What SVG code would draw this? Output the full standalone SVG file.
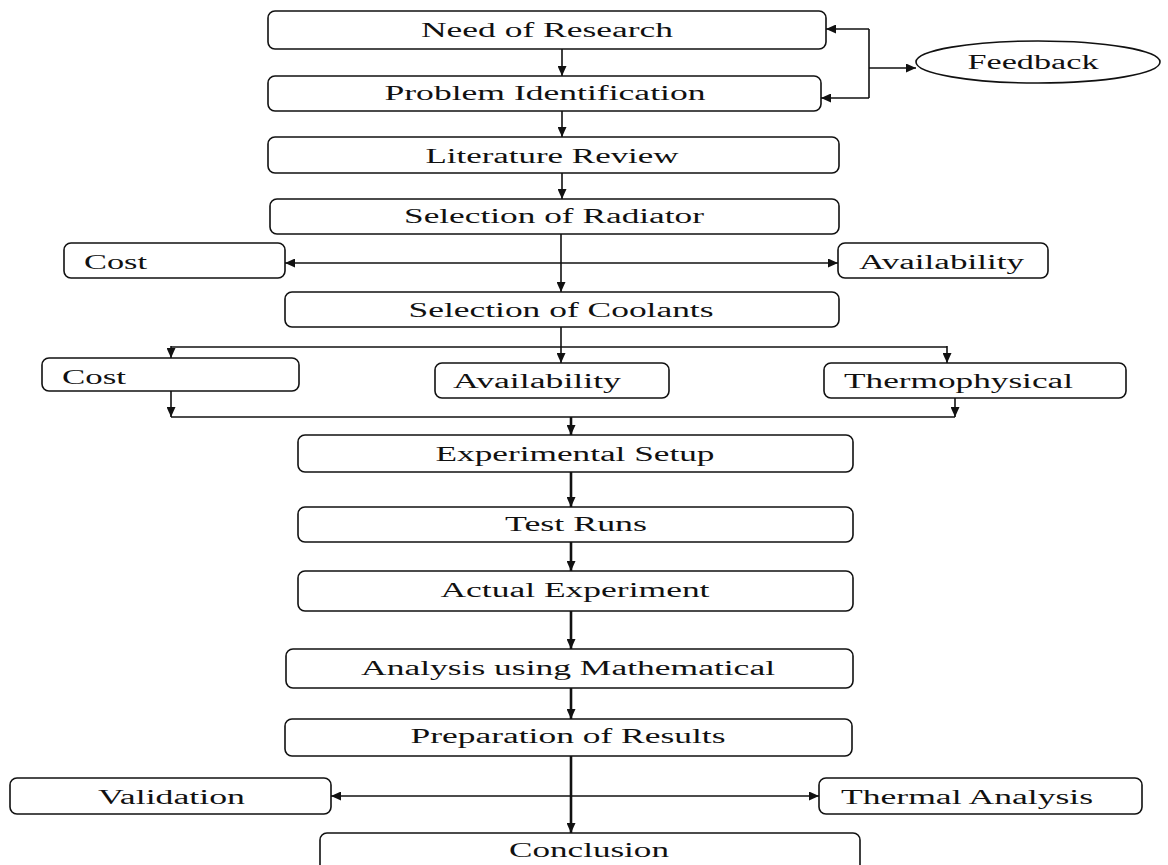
<svg xmlns="http://www.w3.org/2000/svg" width="1168" height="865" viewBox="0 0 1168 865">
<style>
.box{fill:#fff;stroke:#111;stroke-width:1.6}
.t{font-family:"Liberation Serif","Times New Roman",serif;font-size:20px;fill:#111}
.c{text-anchor:middle}
.ln{fill:none;stroke:#111;stroke-width:1.6}
.lt{fill:none;stroke:#111;stroke-width:2.6}
</style>
<defs>
<marker id="ah" markerUnits="userSpaceOnUse" markerWidth="11" markerHeight="9" refX="10" refY="4.5" orient="auto">
<path d="M0,0 L10,4.5 L0,9 z" fill="#111"/>
</marker>
</defs>
<rect width="1168" height="865" fill="#fff"/>
<g id="connectors">
<line class="ln" x1="562" y1="49" x2="562" y2="76" marker-end="url(#ah)"/>
<line class="ln" x1="562" y1="111" x2="562" y2="137" marker-end="url(#ah)"/>
<line class="ln" x1="562" y1="173" x2="562" y2="199" marker-end="url(#ah)"/>
<line class="ln" x1="561" y1="234" x2="561" y2="292" marker-end="url(#ah)"/>
<line class="ln" x1="561" y1="263" x2="285" y2="263" marker-end="url(#ah)"/>
<line class="ln" x1="561" y1="263" x2="838" y2="263" marker-end="url(#ah)"/>
<line class="ln" x1="561" y1="327" x2="561" y2="363" marker-end="url(#ah)"/>
<line class="ln" x1="171" y1="347" x2="947" y2="347"/>
<line class="ln" x1="171" y1="346" x2="171" y2="358" marker-end="url(#ah)"/>
<line class="ln" x1="947" y1="346" x2="947" y2="363" marker-end="url(#ah)"/>
<line class="ln" x1="171" y1="391" x2="171" y2="417" marker-end="url(#ah)"/>
<line class="ln" x1="955" y1="398" x2="955" y2="417" marker-end="url(#ah)"/>
<line class="ln" x1="171" y1="417" x2="955" y2="417"/>
<line class="lt" x1="571" y1="417" x2="571" y2="435" marker-end="url(#ah)"/>
<line class="lt" x1="571" y1="472" x2="571" y2="507" marker-end="url(#ah)"/>
<line class="lt" x1="571" y1="542" x2="571" y2="571" marker-end="url(#ah)"/>
<line class="lt" x1="571" y1="611" x2="571" y2="649" marker-end="url(#ah)"/>
<line class="lt" x1="571" y1="688" x2="571" y2="719" marker-end="url(#ah)"/>
<line class="lt" x1="571" y1="756" x2="571" y2="833" marker-end="url(#ah)"/>
<line class="ln" x1="571" y1="796" x2="331" y2="796" marker-end="url(#ah)"/>
<line class="ln" x1="571" y1="796" x2="819" y2="796" marker-end="url(#ah)"/>
<line class="ln" x1="869" y1="29" x2="869" y2="98"/>
<line class="ln" x1="869" y1="29" x2="826" y2="29" marker-end="url(#ah)"/>
<line class="ln" x1="869" y1="98" x2="821" y2="98" marker-end="url(#ah)"/>
<line class="ln" x1="869" y1="68" x2="916" y2="68" marker-end="url(#ah)"/>
</g>
<g id="need"><rect class="box" x="268" y="11" width="558" height="38" rx="7"/><text class="t c" x="547" y="37" textLength="252" lengthAdjust="spacingAndGlyphs">Need of Research</text></g>
<g id="problem"><rect class="box" x="268" y="76" width="553" height="35" rx="7"/><text class="t c" x="545" y="100" textLength="321" lengthAdjust="spacingAndGlyphs">Problem Identification</text></g>
<g id="literature"><rect class="box" x="268" y="137" width="571" height="36" rx="7"/><text class="t c" x="552" y="163" textLength="253" lengthAdjust="spacingAndGlyphs">Literature Review</text></g>
<g id="feedback"><ellipse cx="1038" cy="62" rx="122" ry="21" fill="#fff" stroke="#111" stroke-width="1.6"/><text class="t c" x="1033" y="69" textLength="131" lengthAdjust="spacingAndGlyphs">Feedback</text></g>
<g id="radiator"><rect class="box" x="270" y="199" width="569" height="35" rx="7"/><text class="t c" x="554" y="223" textLength="300" lengthAdjust="spacingAndGlyphs">Selection of Radiator</text></g>
<g id="cost1"><rect class="box" x="64" y="243" width="221" height="35" rx="7"/><text class="t" x="84" y="269" textLength="63" lengthAdjust="spacingAndGlyphs">Cost</text></g>
<g id="avail1"><rect class="box" x="838" y="243" width="210" height="35" rx="7"/><text class="t" x="859" y="269" textLength="165" lengthAdjust="spacingAndGlyphs">Availability</text></g>
<g id="coolants"><rect class="box" x="285" y="292" width="554" height="35" rx="7"/><text class="t c" x="561" y="317" textLength="305" lengthAdjust="spacingAndGlyphs">Selection of Coolants</text></g>
<g id="cost2"><rect class="box" x="42" y="358" width="257" height="33" rx="7"/><text class="t" x="62" y="384" textLength="64" lengthAdjust="spacingAndGlyphs">Cost</text></g>
<g id="avail2"><rect class="box" x="435" y="363" width="234" height="35" rx="7"/><text class="t" x="453" y="388" textLength="168" lengthAdjust="spacingAndGlyphs">Availability</text></g>
<g id="thermo"><rect class="box" x="824" y="363" width="302" height="35" rx="7"/><text class="t" x="844" y="388" textLength="229" lengthAdjust="spacingAndGlyphs">Thermophysical</text></g>
<g id="setup"><rect class="box" x="298" y="435" width="555" height="37" rx="7"/><text class="t c" x="575" y="461" textLength="279" lengthAdjust="spacingAndGlyphs">Experimental Setup</text></g>
<g id="test"><rect class="box" x="298" y="507" width="555" height="35" rx="7"/><text class="t c" x="576" y="531" textLength="142" lengthAdjust="spacingAndGlyphs">Test Runs</text></g>
<g id="actual"><rect class="box" x="298" y="571" width="555" height="40" rx="7"/><text class="t c" x="575" y="597" textLength="269" lengthAdjust="spacingAndGlyphs">Actual Experiment</text></g>
<g id="analysis"><rect class="box" x="286" y="649" width="567" height="39" rx="7"/><text class="t c" x="568" y="675" textLength="414" lengthAdjust="spacingAndGlyphs">Analysis using Mathematical</text></g>
<g id="prep"><rect class="box" x="285" y="719" width="567" height="37" rx="7"/><text class="t c" x="568" y="743" textLength="315" lengthAdjust="spacingAndGlyphs">Preparation of Results</text></g>
<g id="validation"><rect class="box" x="10" y="778" width="321" height="36" rx="7"/><text class="t" x="98" y="804" textLength="147" lengthAdjust="spacingAndGlyphs">Validation</text></g>
<g id="thermal"><rect class="box" x="819" y="778" width="323" height="36" rx="7"/><text class="t" x="841" y="804" textLength="252" lengthAdjust="spacingAndGlyphs">Thermal Analysis</text></g>
<g id="conclusion"><rect class="box" x="320" y="833" width="540" height="40" rx="7"/><text class="t c" x="589" y="857" textLength="160" lengthAdjust="spacingAndGlyphs">Conclusion</text></g>
</svg>
